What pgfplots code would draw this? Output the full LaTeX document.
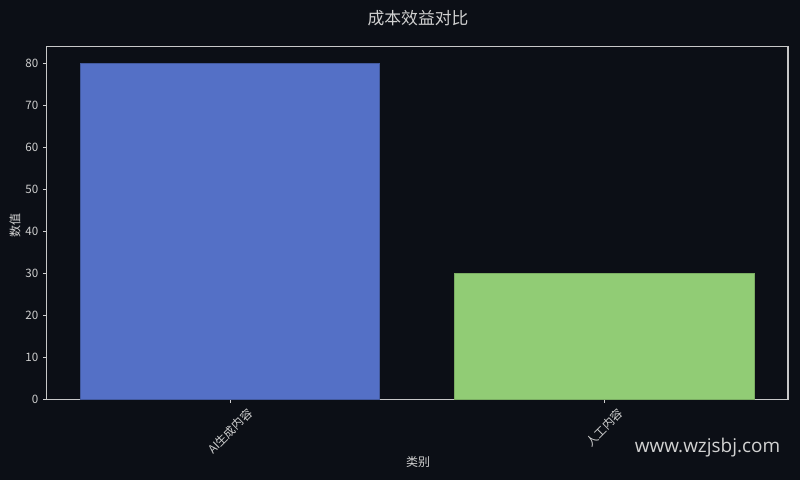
\documentclass[border=0pt]{standalone}
\usepackage{fontspec}
\usepackage{graphicx}
\usepackage{pgfplots}
\pgfplotsset{compat=1.18}
\setmainfont{Noto Sans CJK SC}
\newfontfamily\wmfont{Open Sans}
\definecolor{bg}{HTML}{0C0F16}
\definecolor{fg}{HTML}{D0D0D0}
\definecolor{framec}{HTML}{C8C8C8}
\definecolor{cblue}{HTML}{5470C6}
\definecolor{cgreen}{HTML}{91CC75}
\begin{document}
\begin{tikzpicture}
\fill[bg] (0,0) rectangle (600pt,360pt);
\begin{axis}[at={(34.875pt,60.525pt)}, anchor=south west, scale only axis,
  width=556.1pt, height=264.75pt,
  xmin=-0.49, xmax=1.49, ymin=0, ymax=84,
  axis line style={framec, line width=0.8pt},
  xtick={0,1},
  xticklabels={\rotatebox{45}{AI生成内容},\rotatebox{45}{人工内容}},
  ytick={0,10,20,30,40,50,60,70,80},
  tick align=outside, tick style={fg, line width=0.6pt}, major tick length=2.6pt,
  ticklabel style={font=\fontsize{8.7}{10}\selectfont, text=fg},
  xticklabel style={anchor=north},
  xtick pos=bottom, ytick pos=left,
  /pgf/number format/assume math mode=true,
  clip=false]
\addplot[ybar, bar width=0.8, bar shift=0pt, fill=cblue, draw=cblue!80!black, line width=0.5pt] coordinates {(0,80)};
\addplot[ybar, bar width=0.8, bar shift=0pt, fill=cgreen, draw=cgreen!85!black, line width=0.5pt] coordinates {(1,30)};
\end{axis}
\node[text=fg, font=\fontsize{12.6}{15}\selectfont] at (313.5pt,346.5pt) {成本效益对比};
\node[text=fg, font=\fontsize{9}{11}\selectfont, rotate=90] at (11.25pt,191.25pt) {数值};
\node[text=fg, font=\fontsize{9}{11}\selectfont] at (313.5pt,13.5pt) {类别};
\node[text=fg!95!white, font=\wmfont\fontsize{14.2}{17}\selectfont] at (530.6pt,24pt) {www.wzjsbj.com};
\end{tikzpicture}
\end{document}
